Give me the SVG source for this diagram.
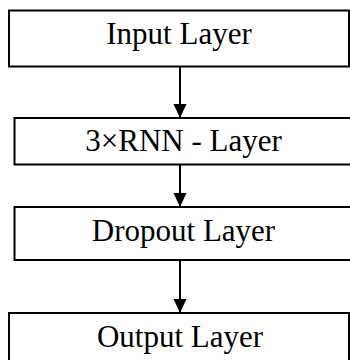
<svg xmlns="http://www.w3.org/2000/svg" width="350" height="360" viewBox="0 0 350 360">
<defs>
<style>
.box{fill:#fff;stroke:#000;stroke-width:2}
.lbl{font-family:"Liberation Serif","Times New Roman",serif;font-size:31px;fill:#000;text-anchor:middle}
.conn{stroke:#000;stroke-width:2;fill:none}
</style>
<marker id="ah" markerUnits="userSpaceOnUse" markerWidth="14" markerHeight="14" refX="14" refY="7" orient="auto">
<path d="M0,0.5 L14,7 L0,13.5 Z" fill="#000"/>
</marker>
</defs>
<rect width="350" height="360" fill="#fff"/>
<g id="connectors">
<line class="conn" x1="180" y1="67" x2="180" y2="118" marker-end="url(#ah)"/>
<line class="conn" x1="180" y1="165" x2="180" y2="207" marker-end="url(#ah)"/>
<line class="conn" x1="180" y1="261" x2="180" y2="313" marker-end="url(#ah)"/>
</g>
<g id="input">
<rect class="box" x="9" y="10.5" width="340" height="56"/>
<text class="lbl" x="179" y="43.5">Input Layer</text>
</g>
<g id="rnn">
<rect class="box" x="14.5" y="118" width="345" height="46.5"/>
<text class="lbl" x="183.5" y="150.5">3×RNN - Layer</text>
</g>
<g id="dropout">
<rect class="box" x="14.5" y="207" width="345" height="53"/>
<text class="lbl" x="183.5" y="240.5">Dropout Layer</text>
</g>
<g id="output">
<rect class="box" x="9" y="313" width="340" height="60"/>
<text class="lbl" x="180" y="347">Output Layer</text>
</g>
</svg>
